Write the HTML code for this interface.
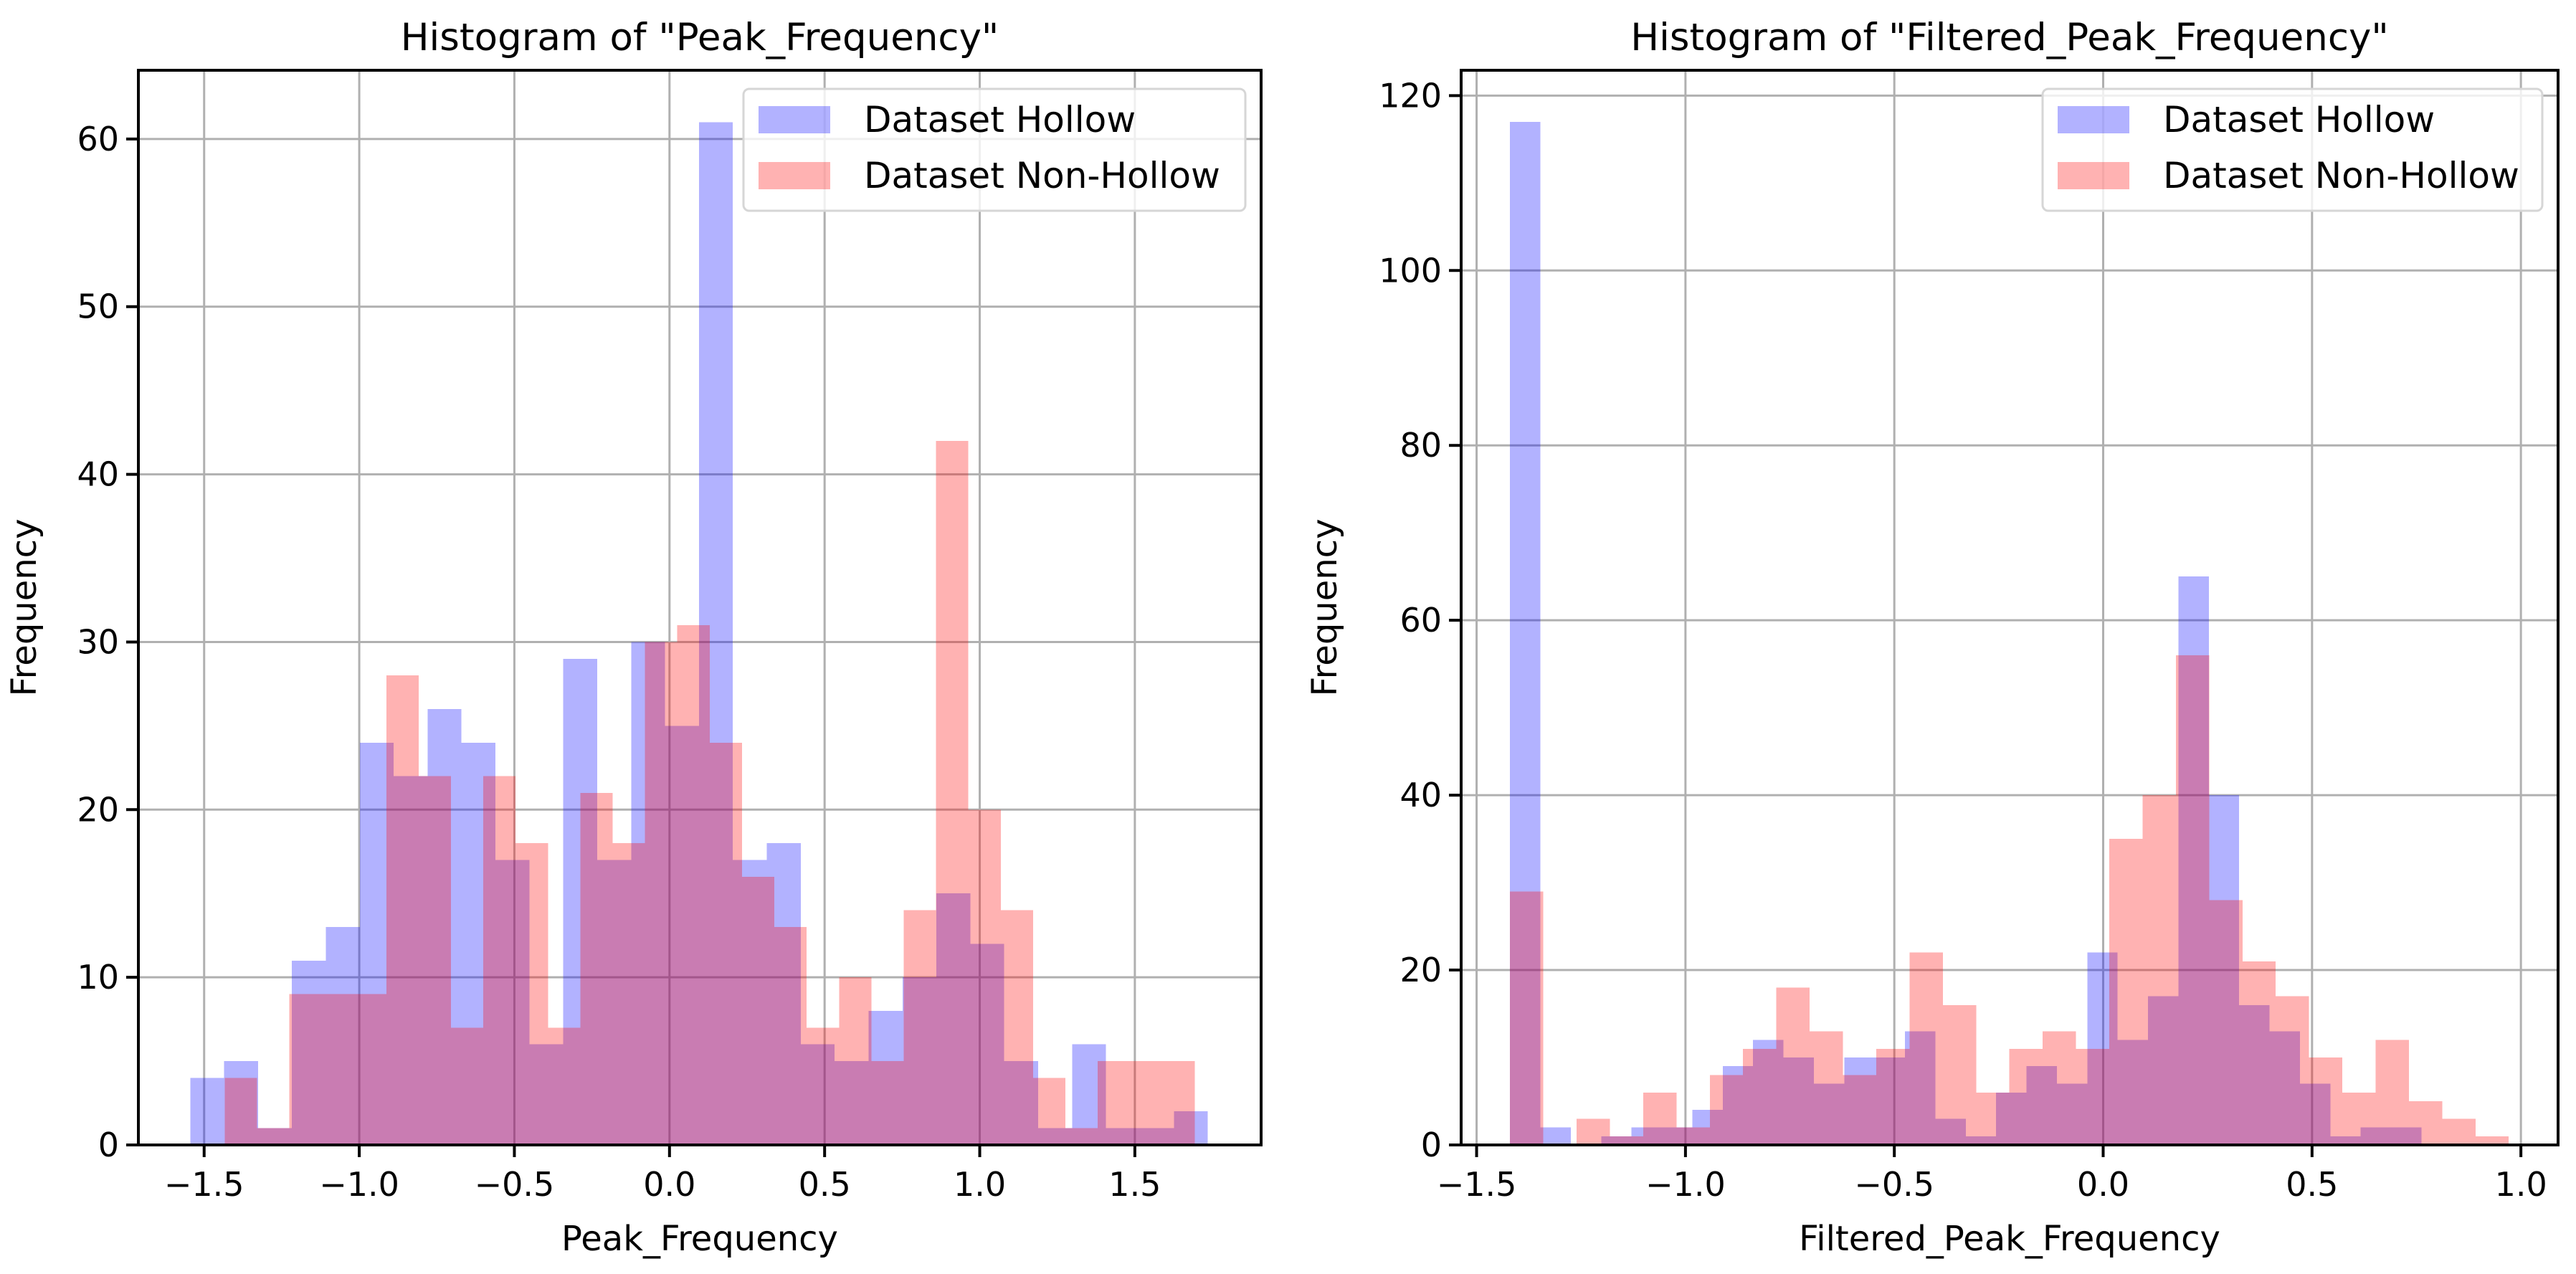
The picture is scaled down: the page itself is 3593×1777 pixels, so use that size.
<!DOCTYPE html>
<html><head><meta charset="utf-8"><style>
html,body{margin:0;padding:0;background:#fff;}
svg{display:block;font-family:"DejaVu Sans","Liberation Sans",sans-serif;}
</style></head><body>
<svg id="fig" width="3593" height="1777" viewBox="0 0 3593 1777" xmlns="http://www.w3.org/2000/svg"></svg>
<script>
// ---- Left chart data ----
const leftHollowRange = [-1.545, 1.735];
const leftHollowCounts = [4,5,1,11,13,24,22,26,24,17,6,29,17,30,25,61,17,18,6,5,8,10,15,12,5,1,6,1,1,2];
const leftNonRange = [-1.434, 1.693];
const leftNonCounts = [4,1,9,9,9,28,22,7,22,18,7,21,18,30,31,24,16,13,7,10,5,14,42,20,14,4,1,5,5,5];
const leftXTicks = [-1.5,-1.0,-0.5,0.0,0.5,1.0,1.5];
const leftYTicks = [0,10,20,30,40,50,60];
// ---- Right chart data ----
const rightHollowRange = [-1.420, 0.762];
const rightHollowCounts = [117,2,0,1,2,2,4,9,12,10,7,10,10,13,3,1,6,9,7,22,12,17,65,40,16,13,7,1,2,2];
const rightNonRange = [-1.420, 0.971];
const rightNonCounts = [29,0,3,1,6,2,8,11,18,13,8,11,22,16,6,11,13,11,35,40,56,28,21,17,10,6,12,5,3,1];
const rightXTicks = [-1.5,-1.0,-0.5,0.0,0.5,1.0];
const rightYTicks = [0,20,40,60,80,100,120];

const NS='http://www.w3.org/2000/svg';
const svg=document.getElementById('fig');
function mk(tag,attrs,parent,text){const e=document.createElementNS(NS,tag);for(const k in attrs)e.setAttribute(k,attrs[k]);if(text!==undefined)e.textContent=text;(parent||svg).appendChild(e);return e;}
function fmt(v){const s=v.toFixed(1);return v<0?'\u2212'+s.slice(1):s;}

function chart(o){
  const g=mk('g',{});
  
  
  const L=o.left,R=o.right,T=98,B=1597;
  const sx=v=>L+(v-o.xmin)/(o.xmax-o.xmin)*(R-L);
  const sy=v=>B-v/o.ymax*(B-T);
  o.xt.forEach(t=>{const l=mk('line',{x1:sx(t),x2:sx(t),y1:T,y2:B,stroke:'#b0b0b0','stroke-width':3},g);
    });
  o.yt.forEach(t=>{const l=mk('line',{x1:L,x2:R,y1:sy(t),y2:sy(t),stroke:'#b0b0b0','stroke-width':3},g);
    });
  function series(range,counts,color,op,nm){
    const w=(range[1]-range[0])/counts.length;
    let d='';
    counts.forEach((c,i)=>{ if(c<=0) return;
      const x0=sx(range[0]+i*w),x1=sx(range[0]+(i+1)*w);
      d+=`M${x0.toFixed(1)},${B}V${sy(c).toFixed(1)}H${x1.toFixed(1)}V${B}Z`;
    });
    const p=mk('path',{d:d,fill:color,'fill-opacity':op,'shape-rendering':'crispEdges'},g);
    
    
  }
  series(o.hr,o.hc,'#0000ff',0.3,'bars-hollow');
  series(o.nr,o.nc,'#ff0000',0.3,'bars-non-hollow');
  const f=mk('rect',{x:L,y:T,width:R-L,height:B-T,fill:'none',stroke:'#000','stroke-width':4},g);
  
  o.xt.forEach(t=>{mk('line',{x1:sx(t),x2:sx(t),y1:B,y2:B+17,stroke:'#000','stroke-width':4},g);
    const tx=mk('text',{x:sx(t),y:1668,'font-size':46,'text-anchor':'middle',fill:'#000'},g,fmt(t));
    });
  o.yt.forEach(t=>{mk('line',{x1:L-17,x2:L,y1:sy(t),y2:sy(t),stroke:'#000','stroke-width':4},g);
    const tx=mk('text',{x:L-27,y:sy(t)+16,'font-size':46,'text-anchor':'end',fill:'#000'},g,String(t));
    });
  const ti=mk('text',{x:(L+R)/2,y:70,'font-size':53,'text-anchor':'middle',fill:'#000'},g,o.title);
  
  const xl=mk('text',{x:(L+R)/2,y:1744,'font-size':48,'text-anchor':'middle',fill:'#000'},g,o.xlabel);
  
  const yl=mk('text',{x:0,y:0,'font-size':48,'text-anchor':'middle',fill:'#000',transform:`translate(${o.ylx},${(T+B)/2}) rotate(-90)`},g,'Frequency');
  
  const lg=mk('g',{},g);
  
  mk('rect',{x:o.lgx,y:124,width:R-22-o.lgx,height:170,rx:8,fill:'#fff','fill-opacity':0.8,stroke:'#d6d6d6','stroke-width':3},lg);
  [['Dataset Hollow','#0000ff',167],['Dataset Non-Hollow','#ff0000',245]].forEach(([t,c,yy])=>{
    const e=mk('g',{},lg);
    
    mk('rect',{x:o.lgx+21,y:yy-19,width:100,height:38,fill:c,'fill-opacity':0.3},e);
    mk('text',{x:o.lgx+168,y:yy+17,'font-size':50,fill:'#000'},e,t);
  });
}
chart({name:'left-histogram',left:193,right:1759,xmin:-1.712,xmax:1.907,ymax:64.1,
  hr:leftHollowRange,hc:leftHollowCounts,nr:leftNonRange,nc:leftNonCounts,xt:leftXTicks,yt:leftYTicks,
  title:'Histogram of "Peak_Frequency"',xlabel:'Peak_Frequency',ylx:50,lgx:1037});
chart({name:'right-histogram',left:2038,right:3568,xmin:-1.537,xmax:1.089,ymax:122.9,
  hr:rightHollowRange,hc:rightHollowCounts,nr:rightNonRange,nc:rightNonCounts,xt:rightXTicks,yt:rightYTicks,
  title:'Histogram of "Filtered_Peak_Frequency"',xlabel:'Filtered_Peak_Frequency',ylx:1864,lgx:2849});
</script>
</body></html>
